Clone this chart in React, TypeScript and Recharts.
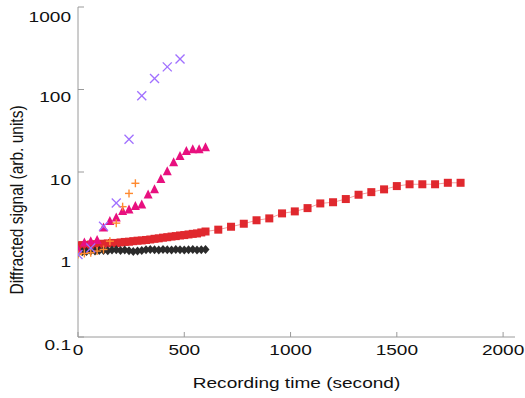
import { ScatterChart, Scatter, XAxis, YAxis, Label } from 'recharts'

// recording time (s) and diffracted signal (arb. units)
const blackT = [0, 20, 40, 60, 80, 100, 120, 140, 160, 180, 200, 220, 240, 260, 280, 300, 320, 340, 360, 380, 400, 420, 440, 460, 480, 500, 520, 540, 560, 580, 600]
const blackV = [1.06, 1.08, 1.09, 1.1, 1.1, 1.12, 1.12, 1.11, 1.13, 1.14, 1.12, 1.13, 1.11, 1.09, 1.1, 1.12, 1.14, 1.15, 1.14, 1.13, 1.15, 1.14, 1.13, 1.15, 1.14, 1.13, 1.14, 1.15, 1.13, 1.14, 1.15]

const redT = [0, 20, 40, 60, 80, 100, 120, 140, 160, 180, 200, 220, 240, 260, 280, 300, 320, 340, 360, 380, 400, 420, 440, 460, 480, 500, 520, 540, 560, 580,
  600, 660, 720, 780, 840, 900, 960, 1020, 1080, 1140, 1200, 1260, 1320, 1380, 1440, 1500, 1560, 1620, 1680, 1740, 1800]
const redV = [1.28, 1.3, 1.3, 1.32, 1.33, 1.33, 1.35, 1.36, 1.38, 1.38, 1.4, 1.42, 1.43, 1.45, 1.47, 1.48, 1.5, 1.52, 1.55, 1.57, 1.6, 1.62, 1.65, 1.67, 1.7, 1.72, 1.75, 1.78, 1.8, 1.85,
  1.9, 2.0, 2.17, 2.36, 2.6, 2.74, 3.15, 3.33, 3.65, 4.16, 4.3, 4.7, 5.3, 5.7, 6.16, 6.75, 7.1, 7.1, 7.1, 7.4, 7.4]

const magentaT = [0, 30, 60, 90, 120, 150, 180, 210, 240, 270, 300, 330, 360, 390, 420, 450, 480, 510, 540, 570, 600]
const magentaV = [1.15, 1.4, 1.45, 1.5, 2.13, 2.54, 2.8, 3.36, 3.5, 3.87, 4.05, 5.35, 6.16, 8.2, 10.2, 13.1, 15.6, 18, 18.9, 18.9, 20]

const orangeT = [0, 30, 60, 90, 120, 150, 180, 210, 240, 270]
const orangeV = [1.0, 1.03, 1.05, 1.1, 1.15, 1.45, 2.4, 3.8, 5.5, 7.3]

const purpleT = [0, 60, 120, 180, 240, 300, 360, 420, 480]
const purpleV = [1.0, 1.2, 2.2, 4.2, 25, 84, 136, 188, 234]

const xTicks = [0, 500, 1000, 1500, 2000]
const yTicks = [0.1, 1, 10, 100, 1000]

const toPoints = (ts: number[], vs: number[]) => ts.map((t, i) => ({ t, v: vs[i] }))

const FONT = '"Liberation Sans", Arial, sans-serif'
const SX = 1.23 // text in the picture is a bit stretched sideways

const AXIS = '#9a9a9a'

function Square(p: any) {
  return <rect x={p.cx - 4} y={p.cy - 4} width={8} height={8} fill="#e0282e" />
}
function Diamond(p: any) {
  const { cx, cy } = p
  return <polygon points={`${cx},${cy - 4.5} ${cx + 4},${cy} ${cx},${cy + 4.5} ${cx - 4},${cy}`} fill="#2b2b2b" />
}
function Triangle(p: any) {
  const { cx, cy } = p
  return <polygon points={`${cx},${cy - 5} ${cx + 4.5},${cy + 4} ${cx - 4.5},${cy + 4}`} fill="#e8107f" />
}
function Plus(p: any) {
  const { cx, cy } = p
  return (
    <g stroke="#ff8a30" strokeWidth={1.4}>
      <line x1={cx - 4} y1={cy} x2={cx + 4} y2={cy} />
      <line x1={cx} y1={cy - 4} x2={cx} y2={cy + 4} />
    </g>
  )
}
function Cross(p: any) {
  const { cx, cy } = p
  return (
    <g stroke="#a070ff" strokeWidth={1.3}>
      <line x1={cx - 4.5} y1={cy - 4.5} x2={cx + 4.5} y2={cy + 4.5} />
      <line x1={cx - 4.5} y1={cy + 4.5} x2={cx + 4.5} y2={cy - 4.5} />
    </g>
  )
}

function XTick({ x, y, payload }: any) {
  return (
    <text transform={`translate(${x},${y + 18}) scale(${SX},1)`} textAnchor="middle"
      fontFamily={FONT} fontSize={15.5} fill="#111">
      {payload.value}
    </text>
  )
}
function YTick({ x, y, payload }: any) {
  return (
    <text transform={`translate(${x - 7},${y + 12.5}) scale(${SX},1)`} textAnchor="end"
      fontFamily={FONT} fontSize={15.5} fill="#111">
      {String(payload.value)}
    </text>
  )
}

export default function App() {
  return (
    <div style={{ position: 'absolute', left: 0, top: 0, background: '#fff' }}>
      <ScatterChart width={525} height={398} margin={{ top: 7, right: 10, bottom: 11, left: 0 }}>
        <XAxis
          type="number"
          dataKey="t"
          domain={[0, 2056]}
          ticks={xTicks}
          allowDataOverflow
          height={50}
          stroke={AXIS}
          tickSize={-5}
          tickMargin={5}
          tick={<XTick />}
        >
          <Label
            content={({ viewBox }: any) => (
              <text transform={`translate(${viewBox.x + viewBox.width / 2},${viewBox.y + 51}) scale(${SX},1)`}
                textAnchor="middle" fontFamily={FONT} fontSize={15.5} fill="#111">
                Recording time (second)
              </text>
            )}
          />
        </XAxis>
        <YAxis
          type="number"
          dataKey="v"
          scale="log"
          domain={[0.1, 1000]}
          ticks={yTicks}
          allowDataOverflow
          width={78}
          stroke={AXIS}
          tickSize={-6}
          tickMargin={6}
          tick={<YTick />}
        >
          <Label
            content={({ viewBox }: any) => (
              <text transform={`translate(23,${viewBox.y + viewBox.height / 2 + 28}) scale(${SX},1) rotate(-90)`}
                textAnchor="middle" fontFamily={FONT} fontSize={15.5} fill="#111">
                Diffracted signal (arb. units)
              </text>
            )}
          />
        </YAxis>
        {/* frame: top and right edges */}
        <XAxis xAxisId="top" orientation="top" type="number" domain={[0, 1]} height={0} tick={false} tickLine={false} stroke={AXIS} />
        <YAxis yAxisId="right" orientation="right" type="number" domain={[0, 1]} width={0} tick={false} tickLine={false} stroke={AXIS} />

        <Scatter data={toPoints(redT, redV)} shape={Square} line={{ stroke: '#f2a0a0', strokeWidth: 1 }} isAnimationActive={false} />
        <Scatter data={toPoints(blackT, blackV)} shape={Diamond} isAnimationActive={false} />
        <Scatter data={toPoints(magentaT, magentaV)} shape={Triangle} isAnimationActive={false} />
        <Scatter data={toPoints(orangeT, orangeV)} shape={Plus} isAnimationActive={false} />
        <Scatter data={toPoints(purpleT, purpleV)} shape={Cross} isAnimationActive={false} />
      </ScatterChart>
    </div>
  )
}
